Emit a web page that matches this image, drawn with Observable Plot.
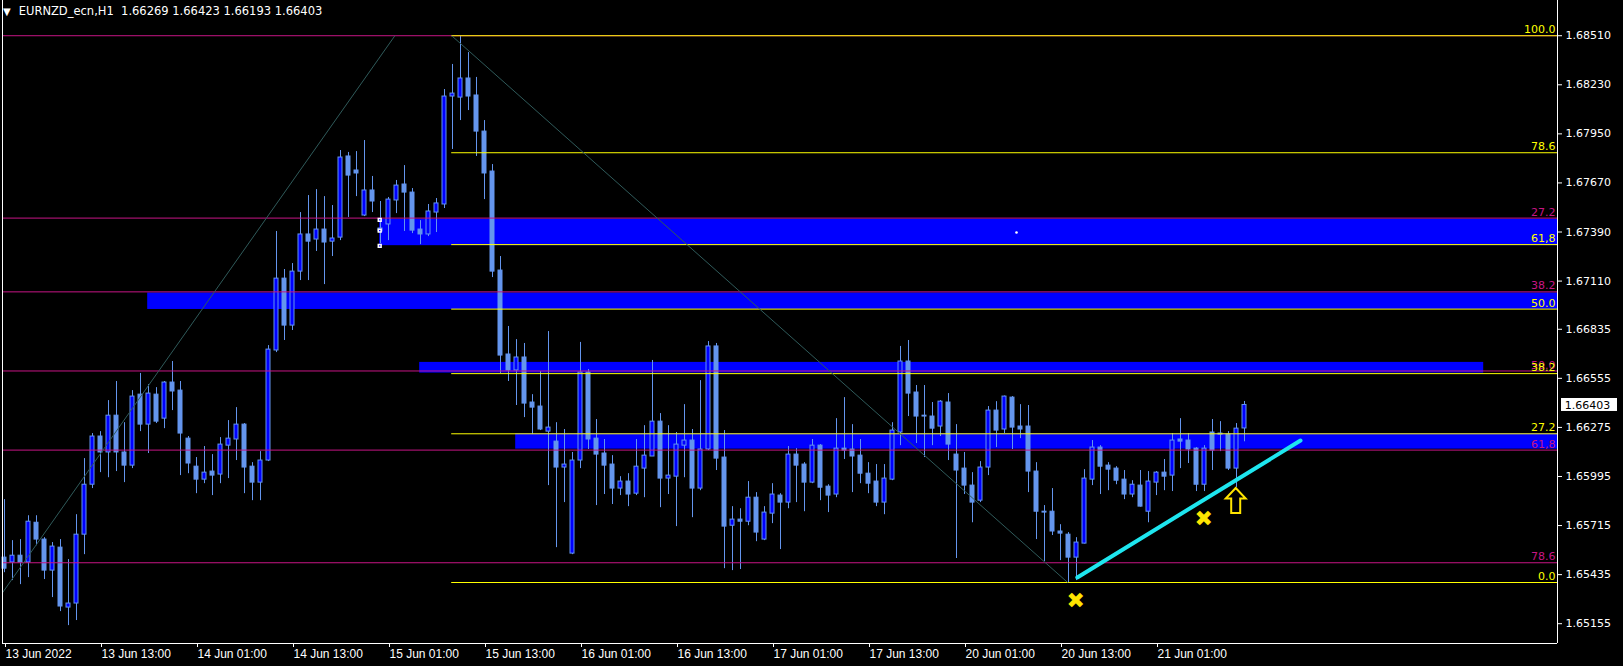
<!DOCTYPE html>
<html><head><meta charset="utf-8">
<script src="https://cdn.jsdelivr.net/npm/d3@7"></script>
<script src="https://cdn.jsdelivr.net/npm/@observablehq/plot@0.6"></script>
<style>
html,body{margin:0;padding:0;background:#000;}
#wrap{position:relative;width:1623px;height:666px;overflow:hidden;background:#000;}
#title{position:absolute;left:3px;top:4px;color:#fff;font:11.5px "DejaVu Sans",sans-serif;white-space:pre;z-index:2;}
#title .tri{font-size:10px;margin-right:8px;}
</style></head><body>
<div id="wrap"><div id="title"><span class="tri">▼</span>EURNZD_ecn,H1  1.66269 1.66423 1.66193 1.66403</div></div>
<script>
// ---- candle data (H1 bars, index 0 = 13 Jun 2022) ----
const open = [
1.65532,1.65504,1.65543,1.65504,1.65731,1.65635,1.65458,1.65589,1.65247,1.65270,
1.65663,1.65948,1.66223,1.66132,1.66342,1.66132,1.66057,1.66462,1.66291,1.66462,
1.66325,1.66531,1.66485,1.66211,1.66051,1.65977,1.66023,1.66006,1.66171,1.66206,
1.66291,1.66051,1.65960,1.66086,1.66714,1.67124,1.66856,1.67164,1.67376,1.67347,
1.67404,1.67335,1.67358,1.67821,1.67741,1.67484,1.67627,1.67393,1.67433,1.67570,
1.67661,1.67615,1.67404,1.67376,1.67501,1.67547,1.68163,1.68157,1.68266,1.68169,
1.67963,1.67735,1.67170,1.66691,1.66600,1.66674,1.66417,1.66394,1.66251,1.66194,
1.66046,1.65555,1.66086,1.66588,1.66211,1.66126,1.66063,1.65926,1.65966,1.65897,
1.66040,1.66109,1.66308,1.65983,1.65994,1.66171,1.66200,1.65926,1.66149,1.66737,
1.66103,1.65714,1.65749,1.65737,1.65874,1.65635,1.65783,1.65886,1.65846,1.66120,
1.66063,1.65960,1.66171,1.65937,1.65892,1.66154,1.66149,1.66114,1.66011,1.65966,
1.65846,1.65977,1.66246,1.66651,1.66474,1.66342,1.66337,1.66280,1.66417,1.66120,
1.66040,1.65943,1.65857,1.66046,1.66371,1.66263,1.66445,1.66280,1.66280,1.66023,
1.65794,1.65794,1.65681,1.65663,1.65532,1.65612,1.65977,1.66160,1.66057,1.66040,
1.65977,1.65892,1.65943,1.65794,1.65960,1.66017,1.66000,1.66206,1.66200,1.66154,
1.65948,1.66246,1.66240,1.66234,1.66040,1.66269];
const high = [
1.65863,1.65629,1.65635,1.65771,1.65771,1.65646,1.65618,1.65635,1.65521,1.65777,
1.66097,1.66240,1.66251,1.66428,1.66537,1.66302,1.66485,1.66583,1.66519,1.66502,
1.66537,1.66651,1.66537,1.66223,1.66103,1.66166,1.66120,1.66217,1.66314,1.66388,
1.66297,1.66074,1.66137,1.66742,1.67393,1.67176,1.67210,1.67501,1.67598,1.67632,
1.67592,1.67541,1.67855,1.67844,1.67849,1.67912,1.67707,1.67564,1.67587,1.67684,
1.67769,1.67638,1.67455,1.67547,1.67581,1.68203,1.68346,1.68510,1.68414,1.68272,
1.68026,1.67775,1.67250,1.66851,1.66776,1.66754,1.66462,1.66594,1.66822,1.66302,
1.66263,1.66132,1.66760,1.66605,1.66320,1.66206,1.66114,1.65994,1.66011,1.66206,
1.66285,1.66657,1.66354,1.66285,1.66246,1.66405,1.66263,1.66542,1.66765,1.66754,
1.66257,1.65823,1.65811,1.65966,1.65903,1.65823,1.65954,1.65897,1.66166,1.66154,
1.66074,1.66206,1.66177,1.65948,1.66325,1.66445,1.66291,1.66206,1.66074,1.66063,
1.66063,1.66302,1.66737,1.66771,1.66514,1.66514,1.66417,1.66428,1.66468,1.66291,
1.66132,1.66017,1.66080,1.66394,1.66422,1.66454,1.66451,1.66405,1.66400,1.66074,
1.65829,1.65926,1.65720,1.65675,1.65646,1.66034,1.66200,1.66171,1.66074,1.66051,
1.66029,1.65971,1.66029,1.66023,1.66023,1.66092,1.66240,1.66325,1.66240,1.66160,
1.66171,1.66320,1.66308,1.66251,1.66297,1.66423];
const low = [
1.65446,1.65401,1.65378,1.65418,1.65600,1.65407,1.65304,1.65224,1.65144,1.65173,
1.65549,1.65926,1.66017,1.65988,1.66023,1.65960,1.66040,1.66251,1.66126,1.66297,
1.66268,1.66371,1.66000,1.66011,1.65897,1.65954,1.65886,1.65954,1.65983,1.66086,
1.65897,1.65857,1.65857,1.66080,1.66702,1.66771,1.66828,1.67113,1.67113,1.67279,
1.67090,1.67250,1.67341,1.67473,1.67592,1.67478,1.67501,1.67324,1.67341,1.67495,
1.67393,1.67381,1.67318,1.67364,1.67387,1.67524,1.67861,1.68026,1.68083,1.67821,
1.67575,1.67130,1.66583,1.66537,1.66400,1.66331,1.66234,1.66257,1.65943,1.65589,
1.65846,1.65549,1.66040,1.66149,1.65829,1.65892,1.65835,1.65886,1.65823,1.65886,
1.65874,1.66109,1.65817,1.65892,1.65709,1.65988,1.65760,1.65914,1.66143,1.66029,
1.65469,1.65458,1.65464,1.65714,1.65623,1.65629,1.65726,1.65578,1.65811,1.65846,
1.65794,1.65954,1.65857,1.65789,1.65874,1.66092,1.65903,1.65954,1.65897,1.65823,
1.65777,1.65971,1.66171,1.66337,1.66183,1.66103,1.66171,1.66223,1.66086,1.65527,
1.65892,1.65731,1.65846,1.66000,1.66160,1.66240,1.66149,1.66211,1.65903,1.65635,
1.65509,1.65658,1.65515,1.65390,1.65401,1.65610,1.65943,1.65892,1.65914,1.65948,
1.65863,1.65874,1.65820,1.65731,1.65886,1.65914,1.65909,1.66040,1.66069,1.65909,
1.65909,1.66029,1.66137,1.66029,1.65931,1.66193];
const close = [
1.65469,1.65543,1.65504,1.65737,1.65635,1.65458,1.65595,1.65253,1.65270,1.65663,
1.65948,1.66223,1.66132,1.66342,1.66132,1.66057,1.66451,1.66291,1.66468,1.66308,
1.66531,1.66480,1.66240,1.66069,1.65977,1.66017,1.66000,1.66177,1.66211,1.66291,
1.66046,1.65960,1.66086,1.66719,1.67124,1.66856,1.67164,1.67376,1.67335,1.67404,
1.67330,1.67353,1.67815,1.67712,1.67724,1.67627,1.67564,1.67410,1.67575,1.67655,
1.67615,1.67398,1.67376,1.67507,1.67553,1.68163,1.68180,1.68266,1.68163,1.67963,
1.67724,1.67164,1.66685,1.66600,1.66674,1.66411,1.66388,1.66263,1.66274,1.66046,
1.66063,1.66086,1.66588,1.66206,1.66120,1.66057,1.65926,1.65966,1.65892,1.66051,
1.66114,1.66308,1.65983,1.66000,1.66177,1.66200,1.65926,1.66149,1.66737,1.66097,
1.65709,1.65749,1.65737,1.65874,1.65675,1.65789,1.65892,1.65846,1.66120,1.66057,
1.65960,1.66171,1.65931,1.65886,1.66154,1.66143,1.66109,1.66011,1.65954,1.65846,
1.65983,1.66257,1.66651,1.66468,1.66337,1.66337,1.66268,1.66422,1.66177,1.66029,
1.65943,1.65846,1.66046,1.66371,1.66257,1.66451,1.66274,1.66263,1.66023,1.65794,
1.65789,1.65681,1.65669,1.65532,1.65618,1.65983,1.66160,1.66051,1.66034,1.65971,
1.65892,1.65948,1.65823,1.65966,1.66017,1.65994,1.66200,1.66194,1.66149,1.65948,
1.66154,1.66143,1.66234,1.66040,1.66268,1.66403];

// ---- axes ----
const xTickBars = [0,12,24,36,48,60,72,84,96,108,120,132,144];
const xTickLabels = ["13 Jun 2022","13 Jun 13:00","14 Jun 01:00","14 Jun 13:00","15 Jun 01:00","15 Jun 13:00","16 Jun 01:00","16 Jun 13:00","17 Jun 01:00","17 Jun 13:00","20 Jun 01:00","20 Jun 13:00","21 Jun 01:00"];
const yTickLabels = ["1.68510","1.68230","1.67950","1.67670","1.67390","1.67110","1.66835","1.66555","1.66275","1.65995","1.65715","1.65435","1.65155"];

// ---- drawn objects ----
const yellowFibAnchors = [{bar: 55.9, price: 1.68510}, {bar: 132.9, price: 1.65390}];
const yellowFibLevels = [0, 27.2, 38.2, 50, 61.8, 78.6, 100];
const yellowFibLabels = ["0.0","27.2","38.2","50.0","61,8","78.6","100.0"];
const magentaFibAnchors = [{bar: -10.25, price: 1.64684}, {bar: 48.8, price: 1.68510}];
const magentaFibLevels = [0, 27.2, 38.2, 50, 61.8, 78.6];
const magentaFibLabels = ["","27.2","38.2","50.0","61,8","78.6"];
const zoneStart = [46.9, 17.9, 51.9, 63.9];
const zoneEnd = [206, 206, 184.9, 206];
const zoneTop = [1.67463, 1.67042, 1.66646, 1.66239];
const zoneBottom = [1.67312, 1.66948, 1.66585, 1.66151];
const zoneHandles = [{bar: 46.9, price: 1.67459}, {bar: 46.9, price: 1.67398}, {bar: 46.9, price: 1.67311}];
const zoneCenter = [{bar: 126.5, price: 1.67387}];
const trendLine = [{bar: 134.1, price: 1.65419}, {bar: 162, price: 1.66200}];
const crossMarks = [{bar: 133.9, price: 1.65282}, {bar: 149.9, price: 1.65755}];
const arrowMarks = [{bar: 153.9, price: 1.65858}];

// ---- build tables ----
const candles = open.map((o, k) => ({bar: k, open: o, high: high[k], low: low[k], close: close[k]}));
const bulls = candles.filter(d => d.close > d.open);
const bears = candles.filter(d => d.close <= d.open);
const zones = zoneStart.map((s, k) => ({x1: s, x2: zoneEnd[k], top: zoneTop[k], bottom: zoneBottom[k]}));
function fibRows(anchors, levels, labels) {
  const p1 = anchors[0].price, p2 = anchors[1].price;
  return levels.map((l, k) => ({price: p2 + (p1 - p2) * l / 100, label: labels[k], start: anchors[0].bar}));
}
const yellowRows = fibRows(yellowFibAnchors, yellowFibLevels, yellowFibLabels);
const magentaRows = fibRows(magentaFibAnchors, magentaFibLevels, magentaFibLabels);
const diagonals = [magentaFibAnchors, yellowFibAnchors].map(a => ({x1: a[0].bar, y1: a[0].price, x2: a[1].bar, y2: a[1].price}));
const xLabelMap = new Map(xTickBars.map((b, k) => [b, xTickLabels[k]]));
const yTickValues = yTickLabels.map(Number);
const yLabelMap = new Map(yTickValues.map((v, k) => [v, yTickLabels[k]]));
const lastClose = close[close.length - 1];

// outlined up-arrow shape (MT4 arrow object)
const arrowSymbol = {
  draw(ctx, size) {
    const s = Math.sqrt(size / Math.PI);
    ctx.moveTo(0, -s);
    ctx.lineTo(0.8 * s, -0.15 * s);
    ctx.lineTo(0.36 * s, -0.15 * s);
    ctx.lineTo(0.36 * s, s);
    ctx.lineTo(-0.36 * s, s);
    ctx.lineTo(-0.36 * s, -0.15 * s);
    ctx.lineTo(-0.8 * s, -0.15 * s);
    ctx.closePath();
  }
};

const xDomain = [-0.25, 194.125];
const yDomain = [1.65042, 1.68711];
const WICK = "#6495ed", BULL = "#0000ff", YEL = "#ffff00", MAG = "#c71585";

const chart = Plot.plot({
  width: 1623, height: 666,
  marginLeft: 2, marginRight: 66, marginTop: 0, marginBottom: 23,
  style: {background: "#000", color: "#fff", overflow: "visible"},
  x: {type: "linear", domain: xDomain},
  y: {type: "linear", domain: yDomain},
  marks: [
    Plot.rect(zones, {x1: "x1", x2: "x2", y1: "bottom", y2: "top", fill: BULL, clip: true}),
    Plot.ruleX(candles, {x: "bar", y1: "low", y2: "high", stroke: WICK}),
    Plot.rect(bears, {x1: d => d.bar - 0.25, x2: d => d.bar + 0.25, y1: "open", y2: "close", fill: WICK, stroke: WICK}),
    Plot.rect(bulls, {x1: d => d.bar - 0.25, x2: d => d.bar + 0.25, y1: "open", y2: "close", fill: BULL, stroke: WICK}),
    Plot.ruleY(magentaRows, {y: "price", x1: "start", x2: 250, stroke: MAG, clip: true}),
    Plot.ruleY(yellowRows, {y: "price", x1: "start", x2: 250, stroke: YEL, clip: true}),
    Plot.link(diagonals, {x1: "x1", y1: "y1", x2: "x2", y2: "y2", stroke: "#2f5a5a", clip: true}),
    Plot.text(magentaRows.filter(d => d.label), {x: xDomain[1], y: "price", text: "label", textAnchor: "end", dx: -2, dy: -6, fill: MAG, fontSize: 11, fontFamily: "DejaVu Sans", clip: true}),
    Plot.text(yellowRows, {x: xDomain[1], y: "price", text: "label", textAnchor: "end", dx: -2, dy: -6, fill: YEL, fontSize: 11, fontFamily: "DejaVu Sans", clip: true}),
    Plot.dot(zoneHandles, {x: "bar", y: "price", symbol: "square", r: 1.6, stroke: "#fff", fill: BULL}),
    Plot.dot(zoneCenter, {x: "bar", y: "price", r: 1.3, fill: "#fff"}),
    Plot.line(trendLine, {x: "bar", y: "price", stroke: "#1ee6ef", strokeWidth: 4}),
    Plot.text(crossMarks, {x: "bar", y: "price", text: () => "\u2716", fill: "#ffe400", fontSize: 22, fontFamily: "DejaVu Sans"}),
    Plot.dot(arrowMarks, {x: "bar", y: "price", symbol: arrowSymbol, r: 12.5, stroke: "#ffe400", strokeWidth: 2, fill: "#000"}),
    Plot.ruleX([xDomain[0], xDomain[1]], {stroke: "#fff"}),
    Plot.ruleY([yDomain[0]], {stroke: "#fff"}),
    Plot.axisX({ticks: xTickBars, tickFormat: d => xLabelMap.get(d), anchor: "bottom", tickSize: 4, tickPadding: 2, textAnchor: "start", dx: 1, label: null, fontSize: 12, fontFamily: "Liberation Sans Narrow, Liberation Sans, sans-serif"}),
    Plot.axisY({ticks: yTickValues, tickFormat: d => yLabelMap.get(d), anchor: "right", tickSize: 4, tickPadding: 4, label: null, fontSize: 11, fontFamily: "DejaVu Sans"}),
    Plot.rect([lastClose], {x1: xDomain[1] + 0.5, x2: xDomain[1] + 7.5, y1: d => d - 0.00037, y2: d => d + 0.00037, fill: "#fff"}),
    Plot.text([lastClose], {x: xDomain[1] + 0.9, y: d => d, text: d => d.toFixed(5), textAnchor: "start", fill: "#000", fontSize: 11, fontFamily: "DejaVu Sans"})
  ]
});
document.getElementById("wrap").appendChild(chart);
</script>
</body></html>
